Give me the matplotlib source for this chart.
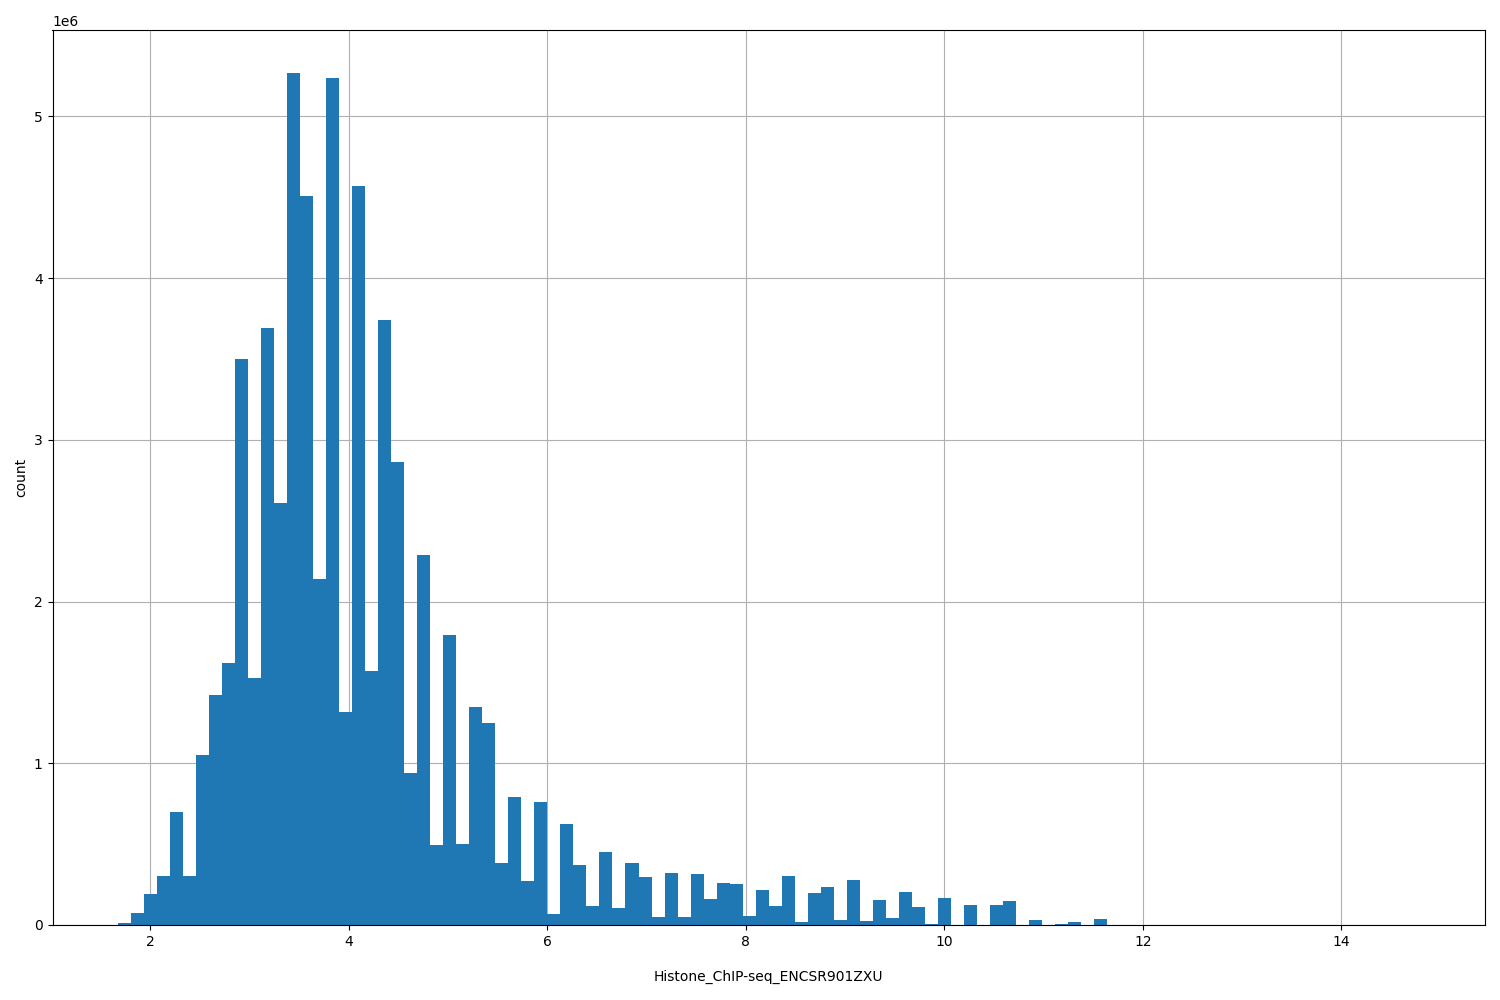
import numpy as np
import matplotlib

matplotlib.use("Agg")
import matplotlib.pyplot as plt

# histogram range and bin count
bin_lo = 1.670
bin_hi = 14.79
n_bins = 100

# bar heights (millions) for bins 0..75, remaining bins are empty
counts_m = [
    0.012, 0.076, 0.19, 0.305, 0.70, 0.305, 1.05, 1.42, 1.62, 3.50,
    1.53, 3.69, 2.61, 5.27, 4.51, 2.14, 5.235, 1.32, 4.57, 1.57,
    3.74, 2.865, 0.94, 2.285, 0.495, 1.79, 0.50, 1.35, 1.25, 0.384,
    0.79, 0.274, 0.76, 0.068, 0.625, 0.371, 0.117, 0.452, 0.105, 0.384,
    0.297, 0.05, 0.32, 0.05, 0.315, 0.16, 0.26, 0.254, 0.056, 0.217,
    0.118, 0.303, 0.019, 0.198, 0.235, 0.03, 0.278, 0.025, 0.155, 0.044,
    0.205, 0.112, 0.006, 0.167, 0.0, 0.125, 0.0, 0.125, 0.149, 0.0,
    0.031, 0.0, 0.006, 0.019, 0.0, 0.037,
]

xlabel = "Histone_ChIP-seq_ENCSR901ZXU"
ylabel = "count"

edges = np.linspace(bin_lo, bin_hi, n_bins + 1)
centers = (edges[:-1] + edges[1:]) / 2
weights = np.zeros(n_bins)
weights[: len(counts_m)] = np.array(counts_m) * 1e6

fig, ax = plt.subplots(figsize=(15, 10), dpi=100)
ax.hist(centers, bins=edges, weights=weights, color="#1f77b4")
ax.grid(True, color="#b0b0b0")
ax.set_axisbelow(True)
ax.set_xlabel(xlabel, labelpad=15)
ax.set_ylabel(ylabel)
fig.subplots_adjust(left=0.035, right=0.99, top=0.97, bottom=0.075)
fig.savefig("out.png")
